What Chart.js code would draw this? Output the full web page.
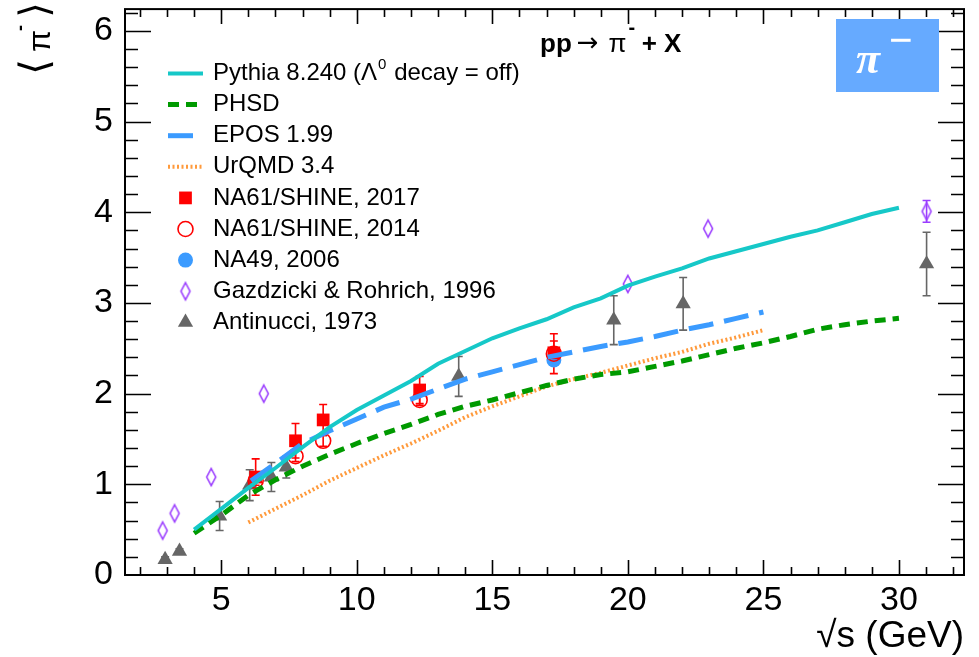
<!DOCTYPE html>
<html>
<head>
<meta charset="utf-8">
<script src="https://cdn.jsdelivr.net/npm/chart.js@4.4.1/dist/chart.umd.min.js"></script>
<style>
html,body{margin:0;padding:0;background:#fff;}
#wrap{width:979px;height:657px;position:relative;}
canvas{display:block;}
</style>
</head>
<body>
<div id="wrap"><canvas id="c" width="979" height="657"></canvas></div>
<script>
// ---------- data ----------
const xTickVals = [5, 10, 15, 20, 25, 30];
const yTickVals = [0, 1, 2, 3, 4, 5, 6];

const pythiaX = [4, 5, 6, 7, 8, 9, 10, 11, 12, 13, 14, 15, 16, 17, 18, 19, 20, 21, 22, 23, 24, 25, 26, 27, 28, 29, 30];
const pythiaY = [0.50, 0.73, 0.96, 1.18, 1.41, 1.63, 1.82, 1.98, 2.14, 2.33, 2.47, 2.61, 2.72, 2.82, 2.95, 3.05, 3.19, 3.29, 3.38, 3.49, 3.57, 3.65, 3.73, 3.80, 3.89, 3.98, 4.05];

const phsdX = [4, 5, 6, 7, 8, 9, 10, 11, 12, 13, 14, 15, 16, 17, 18, 19, 20, 21, 22, 23, 24, 25, 26, 27, 28, 29, 30];
const phsdY = [0.46, 0.66, 0.88, 1.05, 1.20, 1.33, 1.45, 1.56, 1.66, 1.77, 1.86, 1.93, 2.01, 2.09, 2.16, 2.21, 2.24, 2.30, 2.36, 2.43, 2.50, 2.56, 2.63, 2.71, 2.76, 2.80, 2.83];

const eposX = [6.1, 7, 8, 9, 10, 11, 12, 13, 14, 15, 16, 17, 18, 19, 20, 21, 22, 23, 24, 25];
const eposY = [1.04, 1.23, 1.45, 1.59, 1.72, 1.85, 1.94, 2.05, 2.16, 2.24, 2.32, 2.40, 2.46, 2.52, 2.57, 2.63, 2.70, 2.76, 2.83, 2.90];

const urqmdX = [6, 7, 8, 9, 10, 11, 12, 13, 14, 15, 16, 17, 18, 19, 20, 21, 22, 23, 24, 25];
const urqmdY = [0.58, 0.73, 0.88, 1.04, 1.18, 1.32, 1.45, 1.59, 1.74, 1.86, 1.97, 2.08, 2.16, 2.23, 2.31, 2.39, 2.46, 2.55, 2.62, 2.70];

const na61_2017X = [6.27, 7.74, 8.76, 12.32, 17.27];
const na61_2017Y = [1.08, 1.48, 1.71, 2.04, 2.45];
const na61_2017Err = [0.20, 0.19, 0.17, 0.15, 0.13];

const na61_2014X = [6.27, 7.74, 8.76, 12.32, 17.27];
const na61_2014Y = [1.04, 1.31, 1.48, 1.93, 2.44];
const na61_2014Err = [0.05, 0.06, 0.06, 0.06, 0.22];

const na49X = [17.27];
const na49Y = [2.37];
const na49Err = [0.04];

const gazX = [2.84, 3.28, 4.63, 6.57, 20.0, 22.96, 31.02];
const gazY = [0.49, 0.68, 1.08, 2.00, 3.21, 3.82, 4.01];
const gazErr = [0, 0, 0, 0, 0, 0, 0.12];

const antX = [2.93, 3.46, 4.94, 6.05, 6.85, 7.40, 13.76, 19.48, 22.04, 31.02];
const antY = [0.17, 0.26, 0.65, 0.99, 1.08, 1.19, 2.19, 2.81, 2.99, 3.43];
const antErr = [0.03, 0.03, 0.16, 0.17, 0.16, 0.12, 0.22, 0.27, 0.29, 0.35];

// ---------- helpers ----------
const FONT = '"Liberation Sans", Arial, Helvetica, sans-serif';
const pts = (xs, ys) => xs.map((x, i) => ({x: x, y: ys[i]}));

function makeDiamond(color) {
  const c = document.createElement('canvas');
  c.width = 14; c.height = 22;
  const g = c.getContext('2d');
  g.strokeStyle = color; g.lineWidth = 1.6;
  g.beginPath();
  g.moveTo(7, 2.5); g.lineTo(11.5, 11); g.lineTo(7, 19.5); g.lineTo(2.5, 11); g.closePath();
  g.stroke();
  return c;
}
const diamondImg = makeDiamond('#9a3cff');

const lineDs = (label, xs, ys, color, width, dash) => ({
  type: 'line', label: label, data: pts(xs, ys), borderColor: color, backgroundColor: color,
  borderWidth: width, borderDash: dash, pointRadius: 0, fill: false, tension: 0, order: 0,
  borderCapStyle: 'butt', legendKind: 'line'
});

const markerDs = (label, xs, ys, errs, style, radius, fill, stroke, bw, errColor) => ({
  type: 'scatter', label: label, data: pts(xs, ys), errors: errs, errColor: errColor,
  pointStyle: style, pointRadius: radius, pointHoverRadius: radius,
  pointBackgroundColor: fill, pointBorderColor: stroke, pointBorderWidth: bw,
  showLine: false, order: 1, legendKind: 'marker'
});

const datasets = [
  lineDs('Pythia 8.240 (\u039B0 decay = off)', pythiaX, pythiaY, '#16c8c8', 4, []),
  lineDs('PHSD', phsdX, phsdY, '#009a00', 5, [11, 7]),
  lineDs('EPOS 1.99', eposX, eposY, '#3b9bff', 5, [25, 11]),
  lineDs('UrQMD 3.4', urqmdX, urqmdY, '#ff9a3c', 4, [2, 2.5]),
  markerDs('NA61/SHINE, 2017', na61_2017X, na61_2017Y, na61_2017Err, 'rect', 9, '#ff0000', '#ff0000', 0, '#ff0000'),
  markerDs('NA61/SHINE, 2014', na61_2014X, na61_2014Y, na61_2014Err, 'circle', 7.5, 'rgba(0,0,0,0)', '#ff0000', 1.6, '#ff0000'),
  markerDs('NA49, 2006', na49X, na49Y, na49Err, 'circle', 7.5, '#3b9bff', '#3b9bff', 0, '#3b9bff'),
  markerDs('Gazdzicki & Rohrich, 1996', gazX, gazY, gazErr, diamondImg, 8, '#9a3cff', '#9a3cff', 0, '#9a3cff'),
  markerDs('Antinucci, 1973', antX, antY, antErr, 'triangle', 8.8, '#666666', '#666666', 0, '#666666')
];

// ---------- drawing plugin ----------
function drawMarker(ctx, ds, x, y) {
  const r = ds.pointRadius;
  ctx.save();
  ctx.fillStyle = ds.pointBackgroundColor;
  ctx.strokeStyle = ds.pointBorderColor;
  ctx.lineWidth = ds.pointBorderWidth;
  const st = ds.pointStyle;
  if (st instanceof HTMLCanvasElement) {
    ctx.drawImage(st, x - st.width / 2, y - st.height / 2);
  } else if (st === 'rect') {
    const s = r * Math.SQRT1_2;
    ctx.fillRect(x - s, y - s, 2 * s, 2 * s);
  } else if (st === 'circle') {
    ctx.beginPath(); ctx.arc(x, y, r, 0, Math.PI * 2);
    ctx.fill(); if (ds.pointBorderWidth) ctx.stroke();
  } else if (st === 'triangle') {
    ctx.beginPath();
    ctx.moveTo(x, y - r);
    ctx.lineTo(x + r * Math.sin(Math.PI * 2 / 3), y - r * Math.cos(Math.PI * 2 / 3));
    ctx.lineTo(x + r * Math.sin(Math.PI * 4 / 3), y - r * Math.cos(Math.PI * 4 / 3));
    ctx.closePath(); ctx.fill();
  }
  ctx.restore();
}

const decor = {
  id: 'decor',
  beforeDatasetsDraw(chart) {
    const ctx = chart.ctx, xs = chart.scales.x, ys = chart.scales.y;
    ctx.save();
    chart.data.datasets.forEach(ds => {
      if (!ds.errors) return;
      ctx.strokeStyle = ds.errColor; ctx.lineWidth = 1.6;
      ds.data.forEach((p, i) => {
        const e = ds.errors[i];
        if (!e) return;
        const px = xs.getPixelForValue(p.x);
        const y1 = ys.getPixelForValue(p.y + e), y2 = ys.getPixelForValue(p.y - e);
        ctx.beginPath();
        ctx.moveTo(px, y1); ctx.lineTo(px, y2);
        ctx.moveTo(px - 4, y1); ctx.lineTo(px + 4, y1);
        ctx.moveTo(px - 4, y2); ctx.lineTo(px + 4, y2);
        ctx.stroke();
      });
    });
    ctx.restore();
  },
  afterDatasetsDraw(chart) {
    const ctx = chart.ctx, a = chart.chartArea, xs = chart.scales.x, ys = chart.scales.y;
    ctx.save();
    ctx.strokeStyle = '#000'; ctx.lineWidth = 1.6;
    ctx.beginPath();
    for (let v = 2; v <= 32; v++) {
      const px = Math.round(xs.getPixelForValue(v)) + 0.5;
      const L = (v % 5 === 0) ? 15 : 8;
      ctx.moveTo(px, a.bottom); ctx.lineTo(px, a.bottom - L);
      ctx.moveTo(px, a.top); ctx.lineTo(px, a.top + L);
    }
    for (let k = 1; k <= 31; k++) {
      const v = k * 0.2;
      const py = Math.round(ys.getPixelForValue(v)) + 0.5;
      const L = (k % 5 === 0) ? 26 : 13;
      ctx.moveTo(a.left, py); ctx.lineTo(a.left + L, py);
      ctx.moveTo(a.right, py); ctx.lineTo(a.right - L, py);
    }
    ctx.stroke();
    ctx.lineWidth = 2;
    ctx.strokeRect(a.left, a.top, a.right - a.left, a.bottom - a.top);
    ctx.restore();
  },
  afterDraw(chart) {
    const ctx = chart.ctx;
    ctx.save();
    // legend
    const lx0 = 168, lx1 = 203, tx = 213, y0 = 73.5, dy = 31.1;
    ctx.textBaseline = 'middle';
    chart.data.datasets.forEach((ds, i) => {
      const y = y0 + i * dy;
      if (ds.legendKind === 'line') {
        ctx.save();
        ctx.strokeStyle = ds.borderColor; ctx.lineWidth = ds.borderWidth;
        ctx.setLineDash(ds.borderDash);
        ctx.beginPath(); ctx.moveTo(lx0, y); ctx.lineTo(lx1, y); ctx.stroke();
        ctx.restore();
      } else {
        drawMarker(ctx, ds, (lx0 + lx1) / 2, y);
      }
      ctx.fillStyle = '#000';
      ctx.font = '24px ' + FONT;
      if (i === 0) {
        let x = tx;
        const p1 = 'Pythia 8.240 (\u039B';
        ctx.fillText(p1, x, y); x += ctx.measureText(p1).width;
        ctx.font = '15px ' + FONT;
        ctx.fillText('0', x + 1, y - 9); x += ctx.measureText('0').width + 2;
        ctx.font = '24px ' + FONT;
        ctx.fillText(' decay = off)', x, y);
      } else {
        ctx.fillText(ds.label, tx, y);
      }
    });
    // title
    let x = 540; const by = 52;
    ctx.textBaseline = 'alphabetic';
    ctx.font = 'bold 26px ' + FONT;
    ctx.fillText('pp', x, by); x += ctx.measureText('pp').width + 5;
    ctx.font = '26px "DejaVu Sans", sans-serif';
    ctx.fillText('\u2192', x, by - 1); x += ctx.measureText('\u2192').width + 10;
    ctx.font = '26px ' + FONT;
    ctx.fillText('\u03C0', x, by); x += ctx.measureText('\u03C0').width + 2;
    ctx.font = 'bold 20px ' + FONT;
    ctx.fillText('-', x, by - 18); x += 6;
    ctx.font = 'bold 26px ' + FONT;
    ctx.fillText(' + X', x, by);
    // badge
    ctx.fillStyle = '#66aaff';
    ctx.fillRect(836, 19, 103, 73);
    ctx.fillStyle = '#ffffff';
    ctx.font = 'italic bold 44px "Liberation Serif", "DejaVu Serif", serif';
    ctx.fillText('\u03C0', 856, 73);
    ctx.font = 'bold 42px "Liberation Serif", "DejaVu Serif", serif';
    ctx.fillText('\u2212', 889, 54);
    // y title (rotated)
    ctx.fillStyle = '#000';
    ctx.translate(38, 38);
    ctx.rotate(-Math.PI / 2);
    ctx.textBaseline = 'middle';
    ctx.textAlign = 'center';
    ctx.font = '40px "DejaVu Sans", sans-serif';
    ctx.fillText('\u27E8', -29, 0);
    ctx.fillText('\u27E9', 28, 0);
    ctx.font = '32px ' + FONT;
    ctx.fillText('\u03C0', -3, 3);
    ctx.font = 'bold 18px ' + FONT;
    ctx.fillText('-', 10, -17);
    ctx.restore();
  }
};

const tickFont = {family: FONT, size: 34};

new Chart(document.getElementById('c'), {
  type: 'scatter',
  data: {datasets: datasets},
  options: {
    responsive: false,
    animation: false,
    devicePixelRatio: 1,
    layout: {padding: {top: 5, right: 15, left: 0, bottom: 0}},
    plugins: {legend: {display: false}, tooltip: {enabled: false}},
    events: [],
    scales: {
      x: {
        type: 'linear', min: 1.45, max: 32.4,
        grid: {display: false, drawTicks: false}, border: {display: false},
        ticks: {font: tickFont, color: '#000', padding: 5, maxRotation: 0, autoSkip: false},
        afterBuildTicks: s => { s.ticks = xTickVals.map(v => ({value: v})); },
        afterFit: s => { s.height = 82; s.paddingLeft = 0; s.paddingRight = 0; },
        title: {display: true, text: '\u221As (GeV)', align: 'end', color: '#000',
                font: {family: FONT, size: 37}, padding: {top: 0, bottom: -2}}
      },
      y: {
        type: 'linear', min: 0, max: 6.24,
        grid: {display: false, drawTicks: false}, border: {display: false},
        ticks: {font: tickFont, color: '#000', padding: 12, autoSkip: false},
        afterBuildTicks: s => { s.ticks = yTickVals.map(v => ({value: v})); },
        afterFit: s => { s.width = 125; s.paddingTop = 0; s.paddingBottom = 0; }
      }
    }
  },
  plugins: [decor]
});
</script>
</body>
</html>
